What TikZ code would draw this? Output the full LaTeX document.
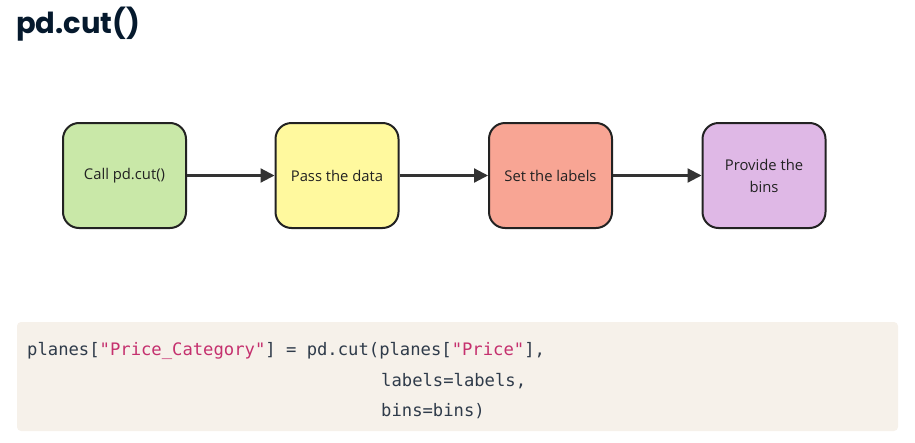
\documentclass[tikz,border=0pt]{standalone}
\usepackage{fontspec}
\setmainfont{Open Sans}
\newfontfamily\titlefont{Poppins}
\newfontfamily\codefont{DejaVu Sans Mono}
\usetikzlibrary{arrows.meta}
\definecolor{navy}{HTML}{05192D}
\definecolor{boxline}{HTML}{222222}
\definecolor{gfill}{HTML}{C9E8A8}
\definecolor{yfill}{HTML}{FFF99E}
\definecolor{rfill}{HTML}{F8A594}
\definecolor{pfill}{HTML}{DFB8E6}
\definecolor{codebg}{HTML}{F6F1EA}
\definecolor{codetext}{HTML}{2F3B4A}
\definecolor{codestr}{HTML}{C5306E}
\definecolor{arrowc}{HTML}{333333}
\tikzset{
  stepbox/.style={draw=boxline, line width=2pt, rounded corners=16pt,
    minimum width=123pt, minimum height=105pt, align=center,
    font=\fontsize{14.8}{22}\selectfont, text=boxline},
  flow/.style={draw=arrowc, line width=2.2pt, -{Triangle[length=14pt,width=14pt]}},
  codeline/.style={anchor=base west, inner sep=0pt, text=codetext,
    font=\codefont\fontsize{17.2}{20}\selectfont}
}
\begin{document}
\begin{tikzpicture}[x=1pt,y=-1pt]
\useasboundingbox (0,0) rectangle (915,442);
\node[anchor=base west, inner sep=0pt, text=navy, font=\titlefont\bfseries\fontsize{29}{34}\selectfont] (title) at (16,33) {pd.cut()};
\node[stepbox, fill=gfill] (b1) at (124.5,175.5) {Call pd.cut()};
\node[stepbox, fill=yfill] (b2) at (337,175.5) {Pass the data};
\node[stepbox, fill=rfill] (b3) at (550.5,175.5) {Set the labels};
\node[stepbox, fill=pfill] (b4) at (764,175.5) {Provide the\\bins};
\draw[flow] (b1) -- (b2);
\draw[flow] (b2) -- (b3);
\draw[flow] (b3) -- (b4);
\fill[codebg, rounded corners=4pt] (17,322) rectangle (898,431);
\node[codeline] (c1) at (27,355) {planes[\textcolor{codestr}{"Price\_Category"}] = pd.cut(planes[\textcolor{codestr}{"Price"}],};
\node[codeline] (c2) at (381,386) {labels=labels,};
\node[codeline] (c3) at (381,416) {bins=bins)};
\end{tikzpicture}
\end{document}
